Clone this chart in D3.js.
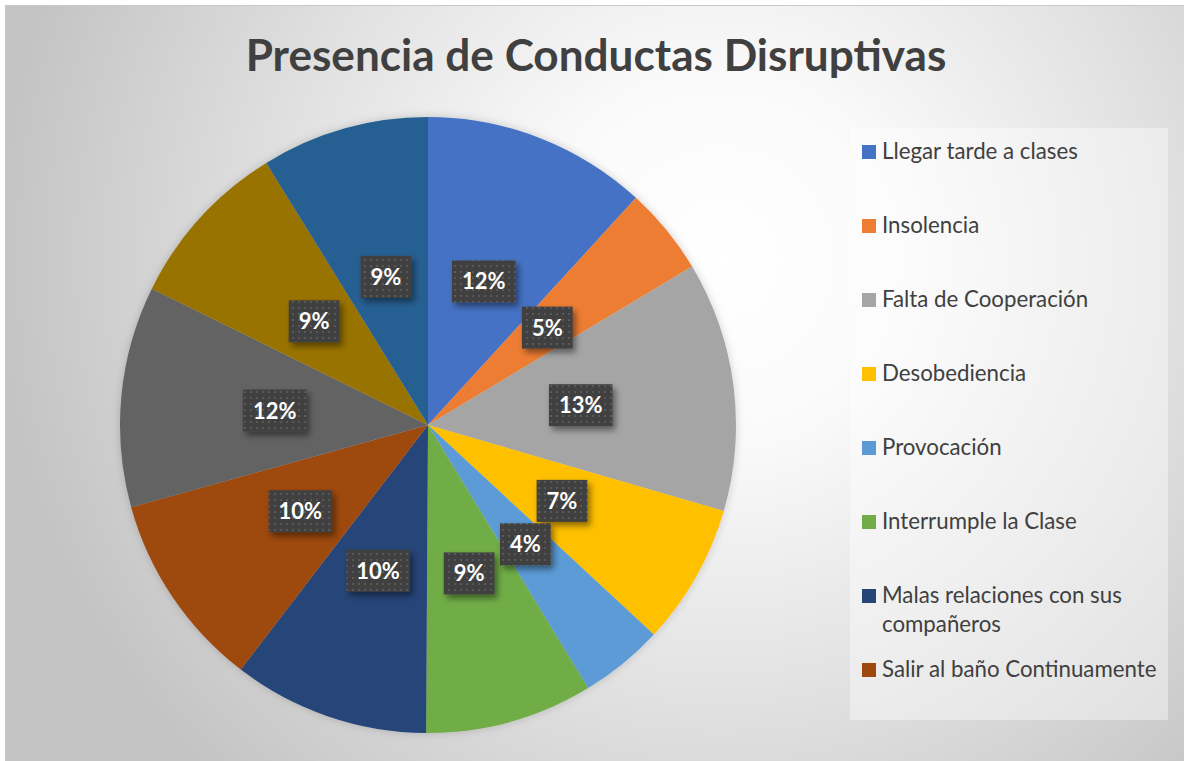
<!DOCTYPE html>
<html>
<head>
<meta charset="utf-8">
<script src="https://cdn.jsdelivr.net/npm/d3@7"></script>
<style>
  html, body { margin: 0; padding: 0; background: #ffffff; }
  svg { display: block; }
</style>
</head>
<body>
<svg id="chart" width="1184" height="761"></svg>
<script>
// ---- data ----
const title = "Presencia de Conductas Disruptivas";
const categories = [
  "Llegar tarde a clases",
  "Insolencia",
  "Falta de Cooperación",
  "Desobediencia",
  "Provocación",
  "Interrumple la Clase",
  "Malas relaciones con sus compañeros",
  "Salir al baño Continuamente",
  "Categoría 9",
  "Categoría 10",
  "Categoría 11"
];
const values = [11.8, 4.6, 13.1, 7.4, 4.4, 8.8, 10.3, 10.3, 11.6, 8.9, 8.8];
const colors = ["#4472C4", "#ED7D31", "#A5A5A5", "#FFC000", "#5B9BD5", "#70AD47",
                "#264478", "#9E480E", "#636363", "#997300", "#255E91"];
const legendShown = 8; // legend in the reference is truncated after 8 entries

const W = 1184, H = 761;
const svg = d3.select("#chart");
const defs = svg.append("defs");

// background gradient
const bg = defs.append("radialGradient").attr("id", "bgGrad")
  .attr("gradientUnits", "userSpaceOnUse")
  .attr("cx", 720).attr("cy", 260).attr("r", 720);
bg.append("stop").attr("offset", "0").attr("stop-color", "#ffffff");
bg.append("stop").attr("offset", "0.25").attr("stop-color", "#fafafa");
bg.append("stop").attr("offset", "0.6").attr("stop-color", "#e2e2e2");
bg.append("stop").attr("offset", "1").attr("stop-color", "#c4c4c4");

// label pattern
const pat = defs.append("pattern").attr("id", "dots")
  .attr("patternUnits", "userSpaceOnUse").attr("width", 6).attr("height", 6);
pat.append("rect").attr("width", 6).attr("height", 6).attr("fill", "#404040");
pat.append("rect").attr("x", 2).attr("y", 2).attr("width", 2).attr("height", 2).attr("fill", "#585858");

const sh = defs.append("filter").attr("id", "shadow")
  .attr("x", "-30%").attr("y", "-30%").attr("width", "170%").attr("height", "170%");
sh.append("feDropShadow").attr("dx", 3).attr("dy", 4).attr("stdDeviation", 3)
  .attr("flood-color", "#000").attr("flood-opacity", 0.45);

const pieSh = defs.append("filter").attr("id", "pieShadow")
  .attr("x", "-10%").attr("y", "-10%").attr("width", "120%").attr("height", "120%");
pieSh.append("feDropShadow").attr("dx", 0).attr("dy", 0).attr("stdDeviation", 4)
  .attr("flood-color", "#000").attr("flood-opacity", 0.18);

// chart area frame
svg.append("rect").attr("x", 5.5).attr("y", 5.5).attr("width", W).attr("height", H)
  .attr("fill", "url(#bgGrad)").attr("stroke", "#c8c8c8").attr("stroke-width", 1);

// title
const FONT = "Lato, 'Open Sans', sans-serif";
const titleText = svg.append("text")
  .attr("x", 596).attr("y", 71)
  .attr("text-anchor", "middle")
  .attr("font-family", FONT).attr("font-weight", 700)
  .attr("font-size", 40).attr("fill", "#404040")
  .text(title);
{
  const w = titleText.node().getComputedTextLength();
  titleText.attr("font-size", 40 * 701 / w);
}

// pie
const cx = 428, cy = 425, R = 308;
const pie = d3.pie().sort(null).value(d => d.v);
const data = values.map((v, i) => ({ v, name: categories[i], color: colors[i] }));
const arcs = pie(data);
const total = d3.sum(values);
const arc = d3.arc().innerRadius(0).outerRadius(R);

const g = svg.append("g").attr("transform", `translate(${cx},${cy})`);
g.append("g").attr("filter", "url(#pieShadow)")
  .selectAll("path").data(arcs).join("path")
  .attr("d", arc)
  .attr("fill", d => d.data.color);

// labels
const lblSize = 22;
const lg = g.append("g");
arcs.forEach(a => {
  const [x, y] = arc.centroid(a);
  const t = Math.round(a.data.v / total * 100) + "%";
  const grp = lg.append("g");
  const box = grp.append("rect").attr("fill", "url(#dots)").attr("filter", "url(#shadow)");
  const txt = grp.append("text")
    .attr("x", x).attr("y", y + 8)
    .attr("text-anchor", "middle")
    .attr("font-family", FONT).attr("font-weight", 700)
    .attr("font-size", lblSize).attr("fill", "#ffffff")
    .text(t);
  const tw = txt.node().getComputedTextLength();
  box.attr("x", x - tw / 2 - 10).attr("y", y - 21)
     .attr("width", tw + 20).attr("height", 42);
});

// legend
const legX = 850, legY = 128, legW = 318, legH = 592;
svg.append("rect").attr("x", legX).attr("y", legY).attr("width", legW).attr("height", legH)
  .attr("fill", "#ffffff").attr("fill-opacity", 0.4);

const legSizeProbe = svg.append("text").attr("font-family", FONT).attr("font-size", 20).text(categories[0]);
const legFont = 20 * 196 / legSizeProbe.node().getComputedTextLength();
legSizeProbe.remove();

const legStep = 74;
const maxTextW = legX + legW - 882 - 4;
data.slice(0, legendShown).forEach((d, i) => {
  const top = 145 + i * legStep;
  svg.append("rect").attr("x", 862).attr("y", top).attr("width", 14).attr("height", 14)
    .attr("fill", d.color);
  const txt = svg.append("text")
    .attr("x", 882).attr("y", top + 14)
    .attr("font-family", FONT).attr("font-size", legFont).attr("fill", "#404040");
  // simple word wrap
  const words = d.name.split(" ");
  let line = [];
  let lineNo = 0;
  let tspan = txt.append("tspan").attr("x", 882).attr("dy", 0);
  words.forEach(w => {
    line.push(w);
    tspan.text(line.join(" "));
    if (tspan.node().getComputedTextLength() > maxTextW && line.length > 1) {
      line.pop();
      tspan.text(line.join(" "));
      line = [w];
      lineNo++;
      tspan = txt.append("tspan").attr("x", 882).attr("dy", 29).text(w);
    }
  });
});
</script>
</body>
</html>
